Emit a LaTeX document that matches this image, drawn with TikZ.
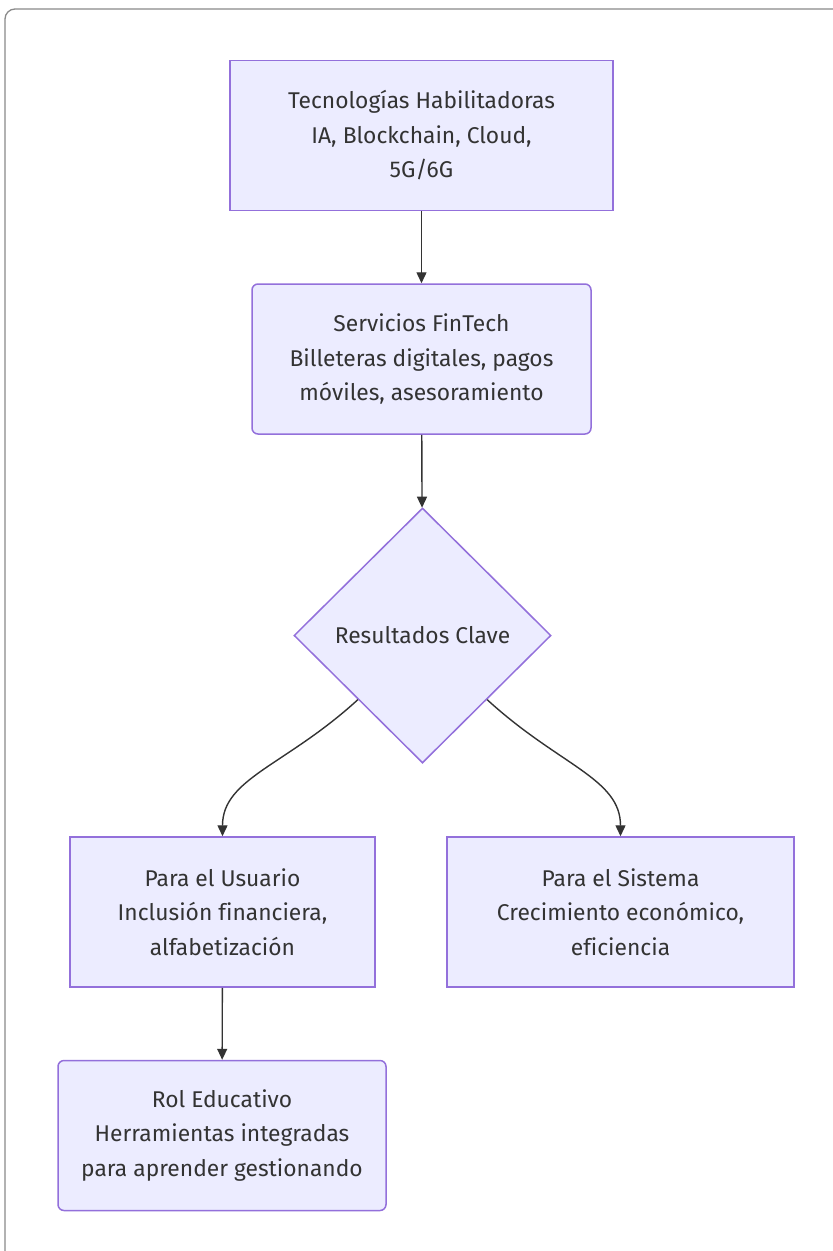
\documentclass[tikz,border=0pt]{standalone}
\usepackage{fontspec}
\setmainfont{Fira Sans}[Ligatures=NoCommon]
\usetikzlibrary{shapes.geometric,arrows.meta}
\definecolor{nodefill}{HTML}{ECECFF}
\definecolor{nodeline}{HTML}{9370DB}
\definecolor{ink}{HTML}{333333}
\definecolor{framecol}{HTML}{8A8A8A}
\tikzset{
  box/.style={draw=nodeline, fill=nodefill, line width=1.5pt, text=ink,
    align=center, inner sep=0pt, minimum height=150pt,
    font=\fontsize{22.8}{34.5}\selectfont},
  roundbox/.style={box, rounded corners=6pt},
  decision/.style={diamond, draw=nodeline, fill=nodefill, line width=1.5pt,
    text=ink, inner sep=0pt, minimum width=257pt, minimum height=255pt,
    font=\fontsize{22.8}{34.5}\selectfont},
  link/.style={draw=ink, line width=1.4pt,
    -{Triangle[length=11pt,width=10pt]}},
}
\begin{document}
\begin{tikzpicture}[x=1pt,y=-1pt]
  \useasboundingbox (0,0) rectangle (833,1251);
  \fill[white] (0,0) rectangle (833,1251);
  % outer frame
  \draw[framecol, line width=1.3pt, rounded corners=10pt]
    (840,9) -- (5,9) -- (5,1258);

  \node[box, minimum width=383pt] (tec) at (421.5,135.5)
    {Tecnologías Habilitadoras\\IA, Blockchain, Cloud,\\5G/6G};
  \node[roundbox, minimum width=339pt] (fin) at (421.5,359)
    {Servicios FinTech\\Billeteras digitales, pagos\\móviles, asesoramiento};
  \node[decision] (res) at (422.5,635.5) {Resultados Clave};
  \node[box, minimum width=305pt] (usr) at (222.5,912)
    {Para el Usuario\\Inclusión financiera,\\alfabetización};
  \node[box, minimum width=347pt] (sis) at (620.5,912)
    {Para el Sistema\\Crecimiento económico,\\eficiencia};
  \node[roundbox, minimum width=328pt] (edu) at (222,1135.5)
    {Rol Educativo\\Herramientas integradas\\para aprender gestionando};

  \draw[link] (tec) -- (fin);
  \draw[link] (fin) -- (res);
  \draw[link] (res.south west) .. controls +(-72,66) and +(0,-58) .. (usr.north);
  \draw[link] (res.south east) .. controls +(72,66) and +(0,-58) .. (sis.north);
  \draw[link] (usr) -- (edu);
\end{tikzpicture}
\end{document}
